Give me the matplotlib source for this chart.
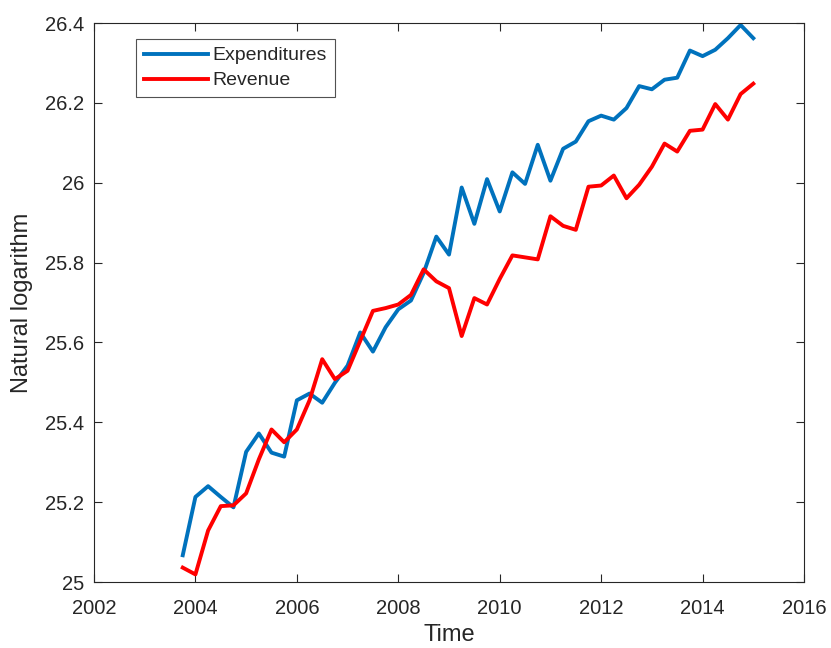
import matplotlib
matplotlib.use("Agg")
import matplotlib.pyplot as plt
import numpy as np

plt.rcParams['font.family'] = ['Liberation Sans', 'DejaVu Sans']

time = [2003.75 + 0.25 * i for i in range(46)]

expenditures = [25.067, 25.213, 25.240, 25.213, 25.187, 25.326, 25.372, 25.324, 25.314,
                25.455, 25.472, 25.449, 25.499, 25.542, 25.625, 25.577, 25.638, 25.683,
                25.705, 25.774, 25.865, 25.820, 25.988, 25.897, 26.009, 25.928, 26.026,
                25.997, 26.095, 26.005, 26.085, 26.103, 26.154, 26.168, 26.158, 26.187,
                26.242, 26.234, 26.258, 26.263, 26.331, 26.317, 26.333, 26.362, 26.395,
                26.362]

revenue = [25.036, 25.019, 25.129, 25.190, 25.192, 25.222, 25.307, 25.382, 25.350,
           25.382, 25.455, 25.558, 25.508, 25.529, 25.604, 25.679, 25.686, 25.695,
           25.719, 25.783, 25.753, 25.736, 25.616, 25.711, 25.695, 25.759, 25.818,
           25.813, 25.808, 25.916, 25.892, 25.882, 25.990, 25.993, 26.018, 25.961,
           25.995, 26.040, 26.098, 26.078, 26.130, 26.133, 26.197, 26.158, 26.222,
           26.248]

xticks = [2002, 2004, 2006, 2008, 2010, 2012, 2014, 2016]
yticks = [25, 25.2, 25.4, 25.6, 25.8, 26, 26.2, 26.4]
yticklabels = ['25', '25.2', '25.4', '25.6', '25.8', '26', '26.2', '26.4']

fig = plt.figure(figsize=(8.31, 6.48), dpi=100)
ax = fig.add_axes([94 / 831, 66 / 648, 710 / 831, 559 / 648])

ax.plot(time, expenditures, color='#0072BD', lw=2.8, label='Expenditures')
ax.plot(time, revenue, color='#FF0000', lw=2.8, label='Revenue')

ax.set_xlim(2002, 2016)
ax.set_ylim(25, 26.4)
ax.set_xticks(xticks)
ax.set_xticklabels([str(t) for t in xticks])
ax.set_yticks(yticks)
ax.set_yticklabels(yticklabels)

dark = '#262626'
for s in ax.spines.values():
    s.set_color(dark)
    s.set_linewidth(0.8)
ax.tick_params(direction='in', top=True, right=True, length=6, width=0.8,
               colors=dark, labelsize=14.5)
ax.tick_params(axis='x', pad=12)
ax.tick_params(axis='y', pad=7)
ax.set_xlabel('Time', fontsize=17, color=dark)
ax.set_ylabel('Natural logarithm', fontsize=17, color=dark)
ax.xaxis.set_label_coords(0.5, -(635 - 582) / 559, transform=ax.transAxes)
ax.xaxis.label.set_va('center')
ax.yaxis.set_label_coords(-(94 - 22) / 710, 0.5, transform=ax.transAxes)
ax.yaxis.label.set_va('center')

leg = ax.legend(loc='upper left', bbox_to_anchor=(42 / 710, (582 - 39) / 559),
                fontsize=14, frameon=True, fancybox=False, edgecolor='#262626',
                borderpad=0.4, handlelength=3.3, handletextpad=0.25,
                labelspacing=0.38, borderaxespad=0)
leg.get_frame().set_linewidth(0.8)
for t in leg.get_texts():
    t.set_color(dark)

fig.savefig('out.png', dpi=100)
